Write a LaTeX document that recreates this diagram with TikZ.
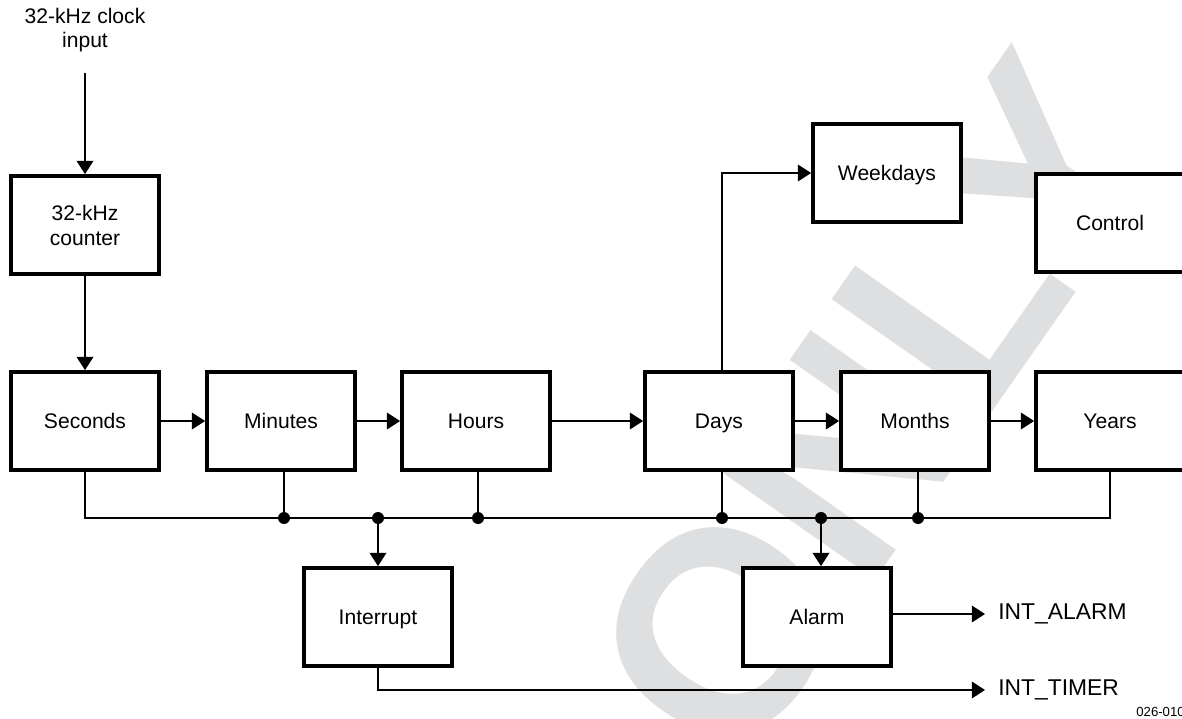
\documentclass[tikz,border=0pt]{standalone}
\usepackage{fontspec}
\setmainfont{Liberation Sans}
\usetikzlibrary{arrows.meta, positioning}
\definecolor{stampgray}{RGB}{222,223,225}

\begin{document}
\begin{tikzpicture}[x=0.02cm, y=-0.02cm,
    blockbase/.style={draw, line width=2.2pt, fill=white, minimum width=2.96cm,
        minimum height=1.96cm, inner sep=0pt, align=center,
        font=\fontsize{12}{14.2}\selectfont},
    block/.style={blockbase, text height=8.6pt, text depth=0pt},
    wire/.style={line width=0.75pt},
    link/.style={wire, -{Triangle[length=7.5pt, width=9.5pt]}},
    junction/.style={circle, fill, inner sep=0pt, minimum size=0.24cm},
    outlabel/.style={anchor=west, inner xsep=0.26cm, inner ysep=0pt,
        font=\fontsize{13}{15}\selectfont}]

\useasboundingbox (0,0) rectangle (1182,719);
\clip (0,0) rectangle (1182,719);

% Watermark
\node[text=stampgray, rotate=55, inner sep=0pt,
    font=\fontsize{162}{162}\selectfont\bfseries] (stamp) at (876,408) {ONLY};

% Clock input
\node[align=center, font=\fontsize{12}{13.6}\selectfont] (clocklabel) at (85,30)
    {32-kHz clock\\input};
\coordinate (clkin) at (85,73);

% Counter chain
\node[blockbase] (counter) at (85,225) {32-kHz\\counter};
\node[block] (seconds) at (85,421) {Seconds};
\node[block] (minutes) at (281,421) {Minutes};
\node[block] (hours) at (476,421) {Hours};
\node[block] (days) at (719,421) {Days};
\node[block] (months) at (915,421) {Months};
\node[block] (years) at (1110,421) {Years};
\node[block] (weekdays) at (887,173) {Weekdays};
\node[block] (control) at (1110,223) {Control};

% Interrupt and alarm
\node[block] (interrupt) at (378,617) {Interrupt};
\node[block] (alarm) at (817,617) {Alarm};

% Outputs
\node[outlabel] (intalarm) at (985,614) {INT\_ALARM};
\node[outlabel] (inttimer) at (985,690) {INT\_TIMER};
\node[anchor=west, inner sep=0pt, font=\fontsize{7.5}{9}\selectfont] (figid)
    at (1136,712) {026-010};

% Bus
\coordinate (busR) at (1110,518);
\node[junction] (jmin) at (284,518) {};
\node[junction] (jint) at (378,518) {};
\node[junction] (jhrs) at (478,518) {};
\node[junction] (jday) at (722,518) {};
\node[junction] (jalm) at (821,518) {};
\node[junction] (jmon) at (918,518) {};

\draw[wire] (seconds.south) |- (busR) -- (years.south);
\draw[wire] (minutes.south -| jmin) -- (jmin);
\draw[wire] (hours.south -| jhrs) -- (jhrs);
\draw[wire] (days.south -| jday) -- (jday);
\draw[wire] (months.south -| jmon) -- (jmon);

% Arrows
\draw[link] (clkin) -- (counter);
\draw[link] (counter) -- (seconds);
\draw[link] (seconds) -- (minutes);
\draw[link] (minutes) -- (hours);
\draw[link] (hours) -- (days);
\draw[link] (days) -- (months);
\draw[link] (months) -- (years);
\draw[link] (days.north -| jday) |- (weekdays.west);
\draw[link] (jint) -- (interrupt);
\draw[link] (jalm) -- (jalm |- alarm.north);
\draw[link] (alarm.east |- intalarm.west) -- (intalarm.west);
\draw[link] (interrupt.south) |- (inttimer.west);

\end{tikzpicture}
\end{document}
